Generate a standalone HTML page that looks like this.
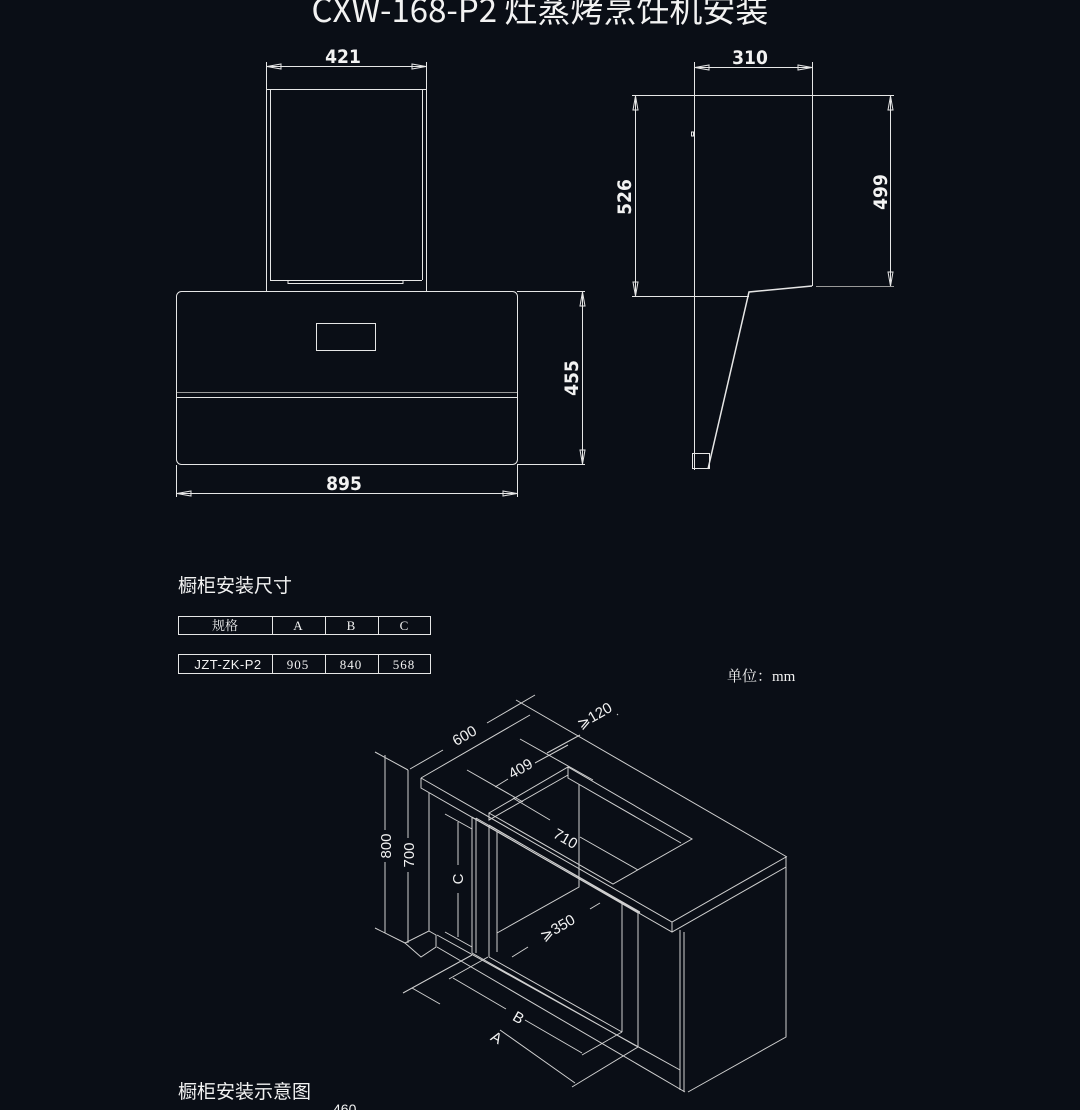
<!DOCTYPE html>
<html><head><meta charset="utf-8"><style>
html,body{margin:0;padding:0;background:#0a0e16;}
svg{display:block}
text{fill:#f2f2f2}
</style></head><body>
<svg width="1080" height="1110" viewBox="0 0 1080 1110" xmlns="http://www.w3.org/2000/svg">
<rect width="1080" height="1110" fill="#0a0e16"/>
<text x="540" y="22" font-size="33" text-anchor="middle" font-family="Noto Sans CJK SC, sans-serif">CXW-168-P2 灶蒸烤烹饪机安装</text>

<g stroke="#e6e6e6" stroke-width="1" fill="none">
<rect x="266.5" y="89.5" width="160" height="202"/>
<line x1="270.5" y1="90" x2="270.5" y2="280"/>
<line x1="422.5" y1="90" x2="422.5" y2="280"/>
<line x1="270" y1="280.5" x2="422" y2="280.5"/>
<path d="M288 280 v3.5 h115 v-3.5"/>
<rect x="176.5" y="291.5" width="341" height="173" rx="5"/>
<line x1="177" y1="392.5" x2="517" y2="392.5" stroke="#999"/>
<line x1="177" y1="397.5" x2="517" y2="397.5"/>
<rect x="316.5" y="323.5" width="59" height="27"/>
<line x1="266.5" y1="62" x2="266.5" y2="89"/><line x1="426.5" y1="62" x2="426.5" y2="89"/>
<line x1="266" y1="66.5" x2="426" y2="66.5"/>
<path d="M267 66.5 l14 -2.5 v5 z M426 66.5 l-14 -2.5 v5 z"/>
<line x1="517" y1="291.5" x2="585" y2="291.5"/><line x1="517" y1="464.5" x2="585" y2="464.5"/>
<line x1="582.5" y1="291" x2="582.5" y2="464"/>
<path d="M582.5 292 l-2.5 14 h5 z M582.5 464 l-2.5 -14 h5 z"/>
<line x1="176.5" y1="465" x2="176.5" y2="497"/><line x1="517.5" y1="465" x2="517.5" y2="497"/>
<line x1="176" y1="493.5" x2="517" y2="493.5"/>
<path d="M177 493.5 l14 -2.5 v5 z M517 493.5 l-14 -2.5 v5 z"/>

<line x1="694.5" y1="62" x2="694.5" y2="95"/><line x1="812.5" y1="62" x2="812.5" y2="95"/>
<line x1="694" y1="67.5" x2="812" y2="67.5"/>
<path d="M695 67.5 l14 -2.5 v5 z M812 67.5 l-14 -2.5 v5 z"/>
<line x1="632" y1="95.5" x2="894" y2="95.5"/>
<line x1="694.5" y1="95" x2="694.5" y2="470"/>
<line x1="812.5" y1="95" x2="812.5" y2="286"/>
<path d="M812 286 L749 292 L708 469" stroke-width="1.5"/>
<line x1="632" y1="296.5" x2="749" y2="296.5"/>
<line x1="816" y1="286.5" x2="894" y2="286.5" stroke="#999"/>
<rect x="692.5" y="453.5" width="17" height="15"/>
<rect x="691.5" y="132" width="2" height="4"/>
<line x1="635.5" y1="95" x2="635.5" y2="296"/>
<path d="M635.5 96 l-2.5 14 h5 z M635.5 296 l-2.5 -14 h5 z"/>
<line x1="890.5" y1="95" x2="890.5" y2="286"/>
<path d="M890.5 96 l-2.5 14 h5 z M890.5 286 l-2.5 -14 h5 z"/>

<rect x="178.5" y="616.5" width="252" height="18"/>
<line x1="272.5" y1="616" x2="272.5" y2="634"/><line x1="325.5" y1="616" x2="325.5" y2="634"/><line x1="378.5" y1="616" x2="378.5" y2="634"/>
<rect x="178.5" y="654.5" width="252" height="19"/>
<line x1="272.5" y1="654" x2="272.5" y2="673"/><line x1="325.5" y1="654" x2="325.5" y2="673"/><line x1="378.5" y1="654" x2="378.5" y2="673"/>
</g>

<g stroke="#d0d0d0" stroke-width="1" fill="none">
<path d="M421 778 L530 715 M421 778 L672 922 L786 857 M516 700 L787 857 M421 778 V788 L672 932 L786 867 V857 M672 922 V932"/>
<path d="M786 867 V1037 L688 1092 M680 930 V1090 M684 932 V1092"/>
<path d="M489 813 L568 767 L692 839 L613 884 Z M568 767 V778 L681 843 M489 813 V820 L568 775"/>
<path d="M579 784 V887 L497 933"/>
<path d="M429 793 V931 L405 943 L421 957 L436 947 V935 L429 931"/>
<path d="M472 817 V953 M476 818 V953 M489 825 V957 M497 832 V952 M472 817 L638 913 V1047 M476 818 L640 912 M489 825 L640 913 M622 903 V1032"/>
<path d="M437 935 L680 1070 M437 947 L685 1092 M472 953 L638 1047 M489 957 L622 1032"/>
<path d="M445 814 L472 829 M445 932 L472 947"/>
<path d="M412 988 L440 1004 M500 1030 L575 1083 M403 993 L472 955 M572 1087 L638 1047"/>
<path d="M453 978 L506 1009 M525 1020 L582 1053 M449 979 L488 957 M582 1055 L622 1032"/>
<path d="M458 822 V865 M458 893 V937"/>
<path d="M385 755 V830 M385 862 V933 M375 752 L408 770 M375 928 L405 943"/>
<path d="M408 770 V838 M408 872 V943"/>
<path d="M410 769 L443 750 M487 723 L535 695"/>
<path d="M495 787 L508 779 M535 763 L568 745 M467 770 L523 802 M520 739 L593 780"/>
<path d="M547 753 L580 735 M617 715 L618 714"/>
<path d="M513 798 L550 820 M580 837 L638 870"/>
<path d="M512 957 L528 947 M590 909 L600 903"/>
</g>

<g font-family="Liberation Sans, DejaVu Sans, sans-serif" font-size="15">
<text transform="translate(467,740) rotate(-30)" text-anchor="middle">600</text>
<text transform="translate(597,720) rotate(-30)" text-anchor="middle">⩾120</text>
<text transform="translate(523,773) rotate(-30)" text-anchor="middle">409</text>
<text transform="translate(563,843) rotate(30)" text-anchor="middle">710</text>
<text transform="translate(560,932) rotate(-30)" text-anchor="middle">⩾350</text>
<text transform="translate(391,846) rotate(-90)" text-anchor="middle">800</text>
<text transform="translate(414,855) rotate(-90)" text-anchor="middle">700</text>
<text transform="translate(463,879) rotate(-90)" text-anchor="middle">C</text>
<text transform="translate(516,1022) rotate(30)" text-anchor="middle">B</text>
<text transform="translate(494,1042) rotate(30)" text-anchor="middle">A</text>
</g>

<g font-family="Liberation Sans Narrow, DejaVu Sans Condensed, Liberation Sans, sans-serif" font-weight="bold" font-size="19">
<text x="343" y="63" text-anchor="middle">421</text>
<text x="344" y="490" text-anchor="middle">895</text>
<text x="750" y="64" text-anchor="middle">310</text>
<text transform="translate(578,378) rotate(-90)" text-anchor="middle">455</text>
<text transform="translate(631,197) rotate(-90)" text-anchor="middle">526</text>
<text transform="translate(887,192) rotate(-90)" text-anchor="middle">499</text>
</g>

<g font-family="Noto Sans CJK SC, sans-serif" font-size="19">
<text x="178" y="592">橱柜安装尺寸</text>
<text x="178" y="1098">橱柜安装示意图</text>
</g>
<g font-family="Liberation Serif, Noto Serif CJK SC, serif" font-size="13" text-anchor="middle">
<text x="225" y="630">规格</text>
<text x="298" y="630">A</text><text x="351" y="630">B</text><text x="404" y="630">C</text>
<text x="228" y="669" font-family="Liberation Sans, sans-serif" letter-spacing="0.5">JZT-ZK-P2</text>
<text x="298" y="669" letter-spacing="1">905</text><text x="351" y="669" letter-spacing="1">840</text><text x="404" y="669" letter-spacing="1">568</text>
</g>
<text x="727" y="681" font-family="Liberation Serif, Noto Serif CJK SC, serif" font-size="15">单位：mm</text>
<text x="333" y="1114" font-family="Liberation Sans, sans-serif" font-size="14">460</text>
</svg>
</body></html>
